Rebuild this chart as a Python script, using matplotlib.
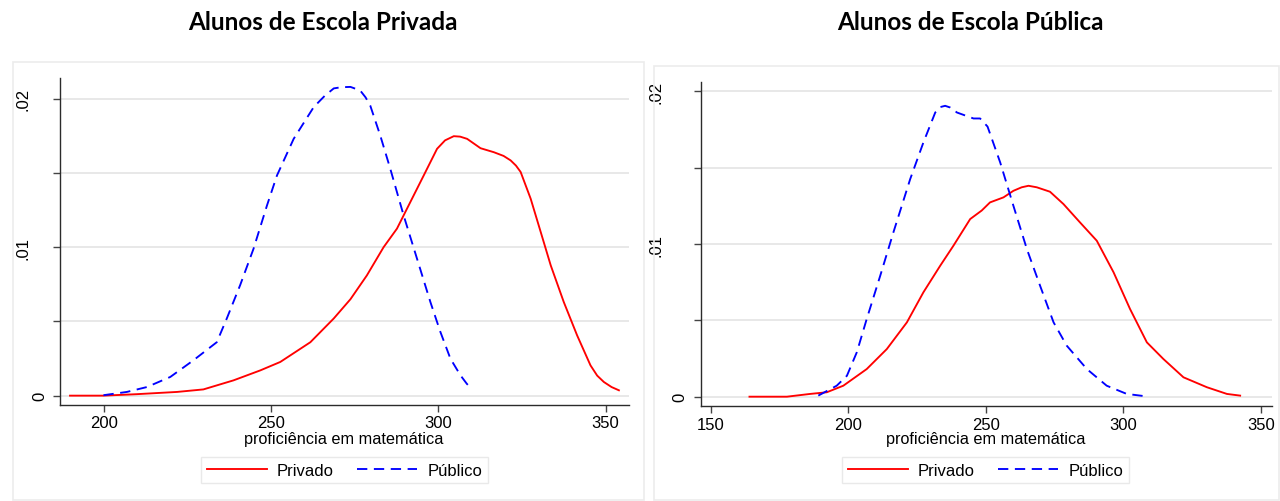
import matplotlib
matplotlib.use("Agg")
import matplotlib.pyplot as plt
from matplotlib.patches import Rectangle

# ---------------- data ----------------
titles = ["Alunos de Escola Privada", "Alunos de Escola Pública"]
xlabel = "proficiência em matemática"
series_names = ["Privado", "Público"]

# Left panel: private-school students
priv_L_x = [189.8, 199.8, 209.8, 221.8, 229.7, 238.7, 246.7, 252.7, 261.7, 268.7, 273.7,
            278.6, 283.6, 287.6, 291.6, 295.6, 299.6, 302.0, 304.6, 306.5, 308.6, 312.6, 316.6,
            319.5, 321.6, 323.2, 324.6, 327.6, 330.6, 333.6, 337.5, 341.5, 345.5, 347.5, 349.5,
            351.8, 354.0]
priv_L_y = [0.0, 0.0, 0.0001, 0.00025, 0.00042, 0.00103, 0.0017, 0.00227, 0.0036, 0.0052, 0.0065,
            0.0081, 0.0100, 0.01125, 0.01304, 0.01483, 0.01663, 0.0172, 0.01748, 0.01745, 0.0173,
            0.01667, 0.0164, 0.01615, 0.01585, 0.01550, 0.01507, 0.01327, 0.01103, 0.00878, 0.00631,
            0.00406, 0.00204, 0.00135, 0.00092, 0.00058, 0.00036]
publ_L_x = [199.8, 206.8, 212.8, 219.8, 226.7, 233.7, 236.7, 240.7, 244.7, 248.7, 251.7, 256.7,
            262.7, 266.0, 268.7, 271.0, 273.7, 276.6, 278.2, 279.6, 282.6, 285.6, 289.6, 293.6,
            297.6, 300.6, 303.6, 306.6, 308.5, 310.1]
publ_L_y = [0.00003, 0.00025, 0.00058, 0.00126, 0.00238, 0.0036, 0.0052, 0.00745, 0.0099, 0.0128,
            0.01483, 0.0173, 0.01944, 0.0202, 0.0207, 0.02078, 0.0208, 0.02056, 0.0201, 0.01955,
            0.01753, 0.01529, 0.01214, 0.00923, 0.00631, 0.00429, 0.00249, 0.00137, 0.00080, 0.00042]

# Right panel: public-school students
priv_R_x = [164.1, 177.7, 186.1, 192.2, 198.2, 206.7, 214.0, 221.3, 227.3, 233.4, 238.2, 244.3,
            248.5, 251.5, 256.4, 260.0, 263.0, 265.5, 268.5, 273.3, 278.2, 284.2, 290.3, 296.4,
            302.4, 308.5, 314.5, 321.8, 330.3, 337.6, 342.4]
priv_R_y = [0.0, 0.0, 0.00018, 0.00029, 0.00072, 0.00181, 0.00312, 0.00487, 0.00684, 0.00858,
            0.00989, 0.01164, 0.0122, 0.01273, 0.01306, 0.01349, 0.01372, 0.01382, 0.01372, 0.01343,
            0.01262, 0.01142, 0.01022, 0.00815, 0.00574, 0.00356, 0.00247, 0.00127, 0.00062,
            0.00018, 0.00007]
publ_R_x = [189.1, 195.8, 199.5, 203.1, 206.7, 211.6, 216.4, 222.5, 227.3, 231.6, 233.5, 235.2,
            237.0, 239.5, 245.5, 247.9, 250.6, 255.2, 260.0, 264.9, 269.7, 274.6, 279.4, 286.7,
            293.9, 301.2, 307.9]
publ_R_y = [0.00007, 0.00072, 0.00137, 0.00291, 0.00509, 0.00792, 0.01077, 0.01426, 0.01666,
            0.01862, 0.01898, 0.01906, 0.01895, 0.01862, 0.01823, 0.01823, 0.0177, 0.01535, 0.01251,
            0.00967, 0.00727, 0.00487, 0.00334, 0.00181, 0.00072, 0.00018, 0.00003]

y_ticks = [0, 0.005, 0.01, 0.015, 0.02]
y_labels = ["0", "", ".01", "", ".02"]
x_ticks_L = [200, 250, 300, 350]
x_ticks_R = [150, 200, 250, 300, 350]

# ---------------- figure ----------------
W, H = 1280, 502
fig = plt.figure(figsize=(W / 100, H / 100), dpi=100)
fig.patch.set_facecolor("white")

def fx(px):
    return px / W

def fy(py):
    return 1 - py / H

# faint panel outlines
for (x0, y0, x1, y1) in [(13, 63, 644, 501), (654, 67, 1279, 501)]:
    fig.patches.append(Rectangle((fx(x0), fy(y1)), fx(x1) - fx(x0), fy(y0) - fy(y1),
                                 transform=fig.transFigure, fill=False,
                                 edgecolor="#ececec", linewidth=1.2, zorder=0))

panels = [
    dict(rect=(60, 79, 628.6, 406), xlim=(186.8, 356.9), ylim=(-0.00063, 0.0214),
         xticks=x_ticks_L, priv=(priv_L_x, priv_L_y), publ=(publ_L_x, publ_L_y),
         title=titles[0], tcx=323, pads=[4.0, 0, 16.0, 0, 16.0], xlc=344, legc=344.5),
    dict(rect=(700.5, 83.3, 1271.8, 407.3), xlim=(146.3, 353.9), ylim=(-0.00063, 0.0206),
         xticks=x_ticks_R, priv=(priv_R_x, priv_R_y), publ=(publ_R_x, publ_R_y),
         title=titles[1], tcx=970, pads=[4.5, 0, 22, 0, 22], xlc=986, legc=985.5),
]

FAM = ["Liberation Sans", "DejaVu Sans"]
TS = 12

for p in panels:
    l, t, r, b = p["rect"]
    ax = fig.add_axes([fx(l), fy(b), fx(r) - fx(l), fy(t) - fy(b)])
    ax.set_xlim(*p["xlim"])
    ax.set_ylim(*p["ylim"])
    for s in ["top", "right"]:
        ax.spines[s].set_visible(False)
    for s in ["left", "bottom"]:
        ax.spines[s].set_color("#2b2b2b")
        ax.spines[s].set_linewidth(1.0)
    ax.set_yticks(y_ticks)
    ax.set_yticklabels(y_labels, rotation=90, va="center", ha="right",
                       fontfamily=FAM, fontsize=TS)
    ax.set_xticks(p["xticks"])
    ax.set_xticklabels([str(v) for v in p["xticks"]], fontfamily=FAM, fontsize=TS)
    ax.tick_params(axis="both", length=5, width=1.0, color="#444444")
    ax.tick_params(axis="x", pad=2.5)
    for tk, pad in zip(ax.yaxis.get_major_ticks(), p["pads"]):
        tk.set_pad(pad)
    ax.grid(axis="y", color="#e6e6e6", linewidth=1.3)
    ax.set_axisbelow(True)

    lp, = ax.plot(p["priv"][0], p["priv"][1], color="#ff0000", linewidth=1.35,
                  label=series_names[0])
    lq, = ax.plot(p["publ"][0], p["publ"][1], color="#0000ff", linewidth=1.35,
                  linestyle=(0, (5.5, 3.5)), label=series_names[1])

    fig.text(fx(p["xlc"]), fy(440), xlabel, ha="center", va="center",
             fontfamily=FAM, fontsize=11.7)
    fig.text(fx(p["tcx"]), fy(23), p["title"], ha="center", va="center",
             fontfamily=["Lato", "DejaVu Sans"], fontweight="bold", fontsize=17.5)
    leg = fig.legend(handles=[lp, lq], loc="center", ncol=2,
                     bbox_to_anchor=(fx(p["legc"]), fy(471)),
                     prop=dict(family=FAM, size=12),
                     frameon=True, fancybox=False, edgecolor="#e4e4e4",
                     handlelength=3.6, handletextpad=0.6, columnspacing=1.4,
                     borderpad=0.35)
    leg.get_frame().set_linewidth(1.0)

fig.savefig("out.png", dpi=100, facecolor="white")
